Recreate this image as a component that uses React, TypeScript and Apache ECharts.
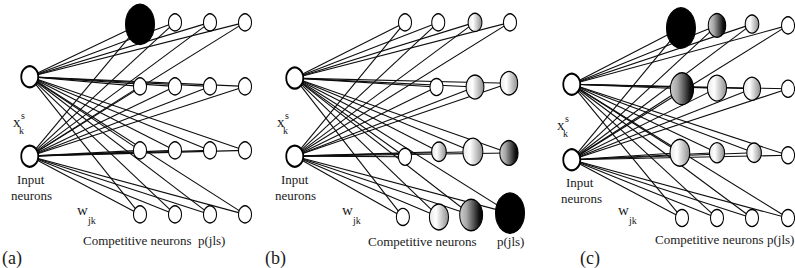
import React, { useEffect, useRef } from "react";
import * as echarts from "echarts";

// ---- data (grid units: column index, row index) ----
const panelLabels = ["(a)", "(b)", "(c)"];

const inputsA = [[-2.15, 1.85], [-2.15, 3.09]];
const inputsB = [[-2.15, 1.87], [-2.15, 3.09]];
const inputsC = [[-2.15, 1.92], [-2.15, 3.1]];

const nodesA = [
  [1, 1.03], [2, 1], [3, 1], [4, 1],
  [1, 2], [2, 2], [3, 2], [4, 2],
  [1, 3], [2, 3], [3, 3], [4, 3],
  [1, 4], [2, 4], [3, 4], [4, 4],
];
const activationA = [1, 0, 0, 0, 0, 0, 0, 0, 0, 0, 0, 0, 0, 0, 0, 0];
const shadeA = [3, 0, 0, 0, 0, 0, 0, 0, 0, 0, 0, 0, 0, 0, 0, 0];

const nodesB = [
  [1, 1], [1.95, 1], [3, 1], [4, 1],
  [1.9, 2.01], [3, 2.01], [3.97, 1.95],
  [1, 3.1], [1.97, 3.02], [2.94, 3.02], [3.97, 3.04],
  [0.94, 4.04], [1.97, 4.04], [2.89, 4.01], [4, 3.98],
];
const activationB = [0, 0, 0.05, 0, 0, 0.3, 0.28, 0, 0.1, 0.43, 0.33, 0, 0.38, 0.62, 1];
const shadeB = [0, 0, 1, 0, 0, 1, 1, 0, 1, 1, 2, 0, 1, 2, 3];

const nodesC = [
  [0.97, 1.04], [2, 1], [3, 0.98], [4.03, 1],
  [1, 1.99], [2, 1.98], [3, 1.99], [4.03, 1.99],
  [0.94, 2.99], [2, 2.99], [3.06, 2.99], [4.03, 3.03],
  [1, 4.01], [2, 4.01], [3, 4.01], [4.03, 4.01],
];
const activationC = [1, 0.28, 0.04, 0, 0.64, 0.38, 0.26, 0, 0.42, 0.13, 0.1, 0, 0, 0, 0, 0];
const shadeC = [3, 2, 1, 0, 2, 1, 1, 0, 1, 1, 1, 0, 0, 0, 0, 0];

// ---- styling ----
const panelGrids = [
  { left: 0, top: 0 },
  { left: 265, top: 0 },
  { left: 542, top: 3 },
];

function shadeColor(s: number): any {
  if (s === 0) return "#ffffff";
  if (s === 3) return "#000000";
  if (s === 1)
    return new echarts.graphic.LinearGradient(0, 0, 1, 0, [
      { offset: 0, color: "#e6e6e6" },
      { offset: 0.35, color: "#ffffff" },
      { offset: 1, color: "#8c8c8c" },
    ]);
  return new echarts.graphic.LinearGradient(0, 0, 1, 0, [
    { offset: 0, color: "#cfcfcf" },
    { offset: 0.3, color: "#a8a8a8" },
    { offset: 0.85, color: "#111111" },
    { offset: 1, color: "#000000" },
  ]);
}

const FONT = "Liberation Serif";

export default function App() {
  const ref = useRef<HTMLDivElement>(null);
  useEffect(() => {
    if (!ref.current) return;
    const chart = echarts.init(ref.current, null, { renderer: "svg" });
    const panelData = [
      { inputs: inputsA, nodes: nodesA, act: activationA, shade: shadeA },
      { inputs: inputsB, nodes: nodesB, act: activationB, shade: shadeB },
      { inputs: inputsC, nodes: nodesC, act: activationC, shade: shadeC },
    ];
    const grid = panelGrids.map((g) => ({
      left: g.left,
      top: g.top,
      width: 252,
      height: 262.4,
    }));
    const xAxis = panelGrids.map((_, i) => ({
      type: "value",
      gridIndex: i,
      min: -3,
      max: 4.2,
      show: false,
    }));
    const yAxis = panelGrids.map((_, i) => ({
      type: "value",
      gridIndex: i,
      min: 0.65,
      max: 4.75,
      inverse: true,
      show: false,
    }));
    const series: any[] = [];
    panelData.forEach((p, i) => {
      const lineData: any[] = [];
      p.inputs.forEach((inp) => {
        p.nodes.forEach((n) => {
          lineData.push({ coords: [inp, n] });
        });
      });
      series.push({
        type: "lines",
        coordinateSystem: "cartesian2d",
        xAxisIndex: i,
        yAxisIndex: i,
        z: 1,
        silent: true,
        lineStyle: { color: "#0d0d0d", width: 1.1, opacity: 1 },
        data: lineData,
      });
      series.push({
        type: "scatter",
        xAxisIndex: i,
        yAxisIndex: i,
        z: 3,
        clip: false,
        symbol: "circle",
        data: p.nodes.map((n, k) => ({
          value: n,
          symbolSize: [13 + 16 * p.act[k], 17 + 23 * p.act[k]],
          itemStyle: {
            color: shadeColor(p.shade[k]),
            borderColor: "#000",
            borderWidth: 1.2,
            opacity: 1,
          },
        })),
      });
      series.push({
        type: "scatter",
        xAxisIndex: i,
        yAxisIndex: i,
        z: 3,
        clip: false,
        symbol: "circle",
        symbolSize: [17, 21],
        itemStyle: { color: "#fff", borderColor: "#000", borderWidth: 2, opacity: 1 },
        data: p.inputs,
      });
    });

    const title: any[] = [];
    const txt = (text: string, x: number, y: number, size: number) => {
      title.push({
        text,
        left: x,
        top: y - size / 2,
        padding: 0,
        itemGap: 0,
        textStyle: {
          fontFamily: FONT,
          fontSize: size,
          fontWeight: "normal",
          color: "#1a1a1a",
          lineHeight: size,
        },
      });
    };
    const labelOffsets = [
      { comp: 83, p: 198, pl: 2, w: 77, x: 13, inp: 17, neu: 11, dy: 0, cy: 240 },
      { comp: 368, p: 497, pl: 265, w: 342, x: 277, inp: 281, neu: 275, dy: 0, cy: 241 },
      { comp: 655, p: 767, pl: 580, w: 618, x: 557, inp: 566, neu: 561, dy: 3, cy: 239 },
    ];
    labelOffsets.forEach((o, i) => {
      txt("x", o.x, 122 + o.dy, 15);
      txt("s", o.x + 8, 115 + o.dy, 10);
      txt("k", o.x + 6, 130 + o.dy, 10);
      txt("Input", o.inp, 179.5 + o.dy, 13);
      txt("neurons", o.neu, 195 + o.dy, 13);
      txt("w", o.w, 210, 15);
      txt("jk", o.w + 11, 220, 10);
      txt("Competitive neurons", o.comp, o.cy, 13);
      txt("p(jls)", o.p, o.cy, 13);
      txt(panelLabels[i], o.pl, 258, 18);
    });

    chart.setOption({
      animation: false,
      backgroundColor: "#fff",
      title,
      grid,
      xAxis,
      yAxis,
      series,
    });
    return () => chart.dispose();
  }, []);
  return (
    <div
      ref={ref}
      style={{ position: "fixed", left: 0, top: 0, width: 795, height: 268 }}
    />
  );
}
